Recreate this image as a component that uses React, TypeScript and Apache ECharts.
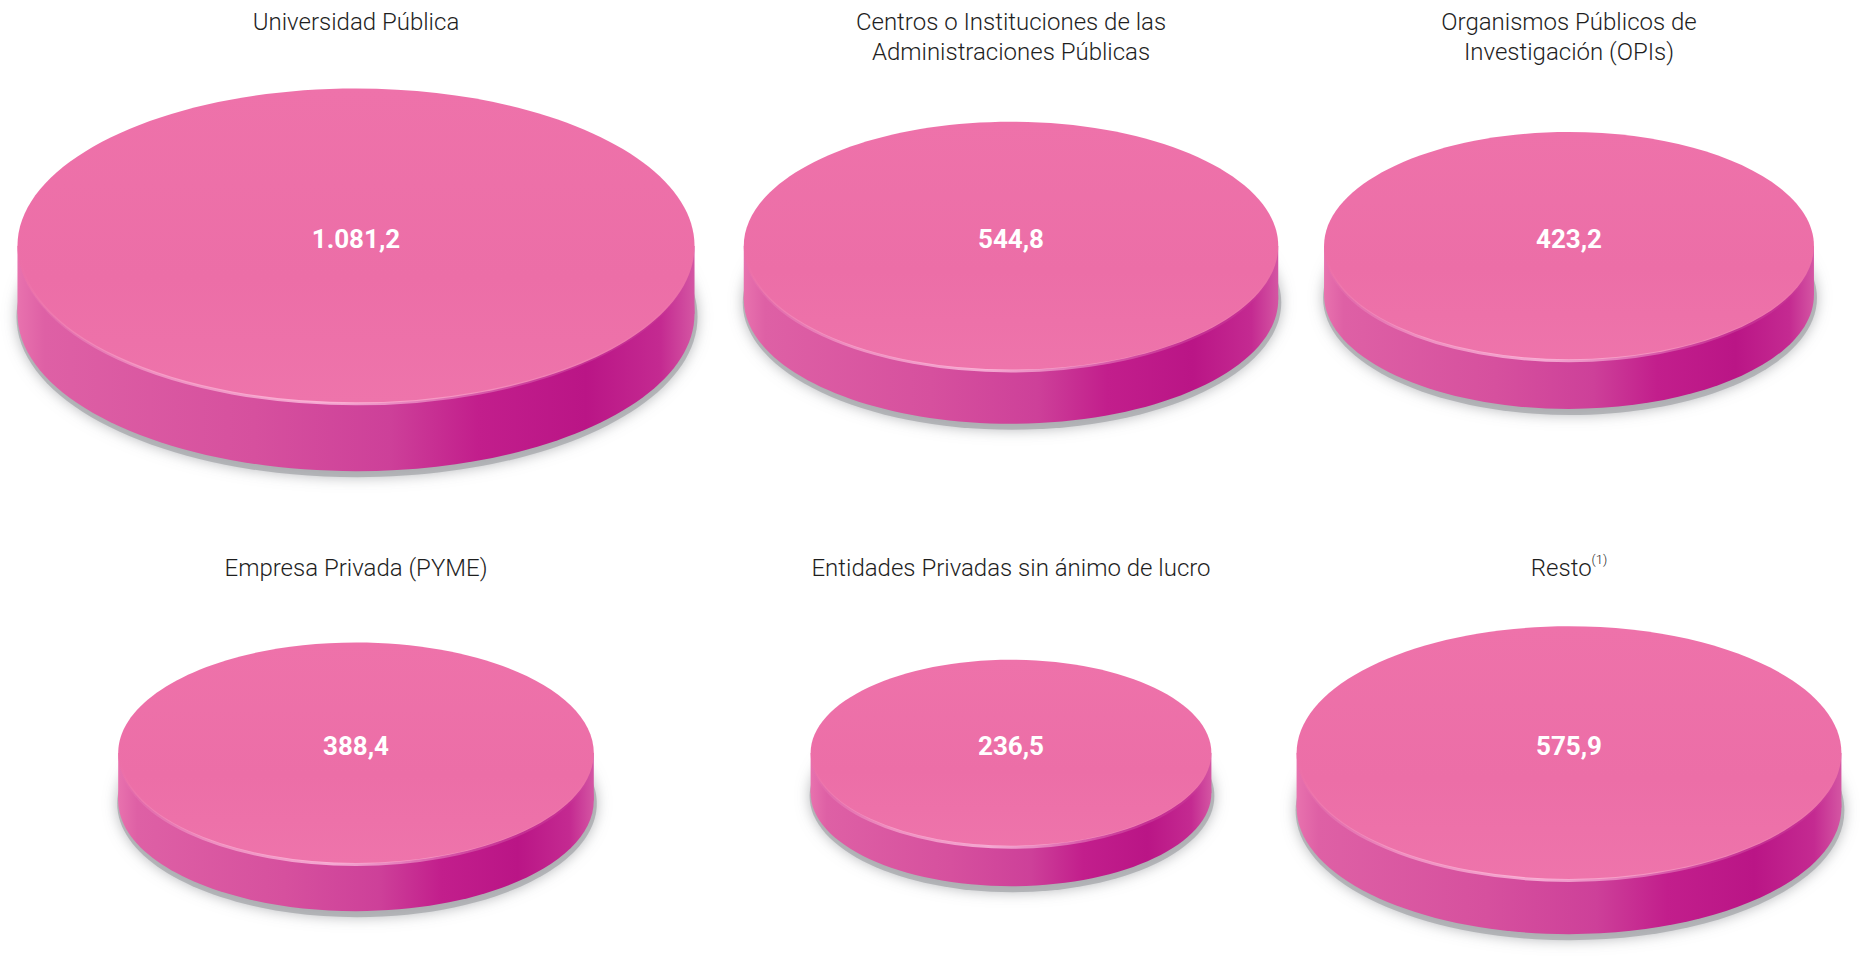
import React, { useEffect, useRef } from 'react';
import * as echarts from 'echarts';

// ---- data ----
const categories = [
  'Universidad Pública',
  'Centros o Instituciones de las\nAdministraciones Públicas',
  'Organismos Públicos de\nInvestigación (OPIs)',
  'Empresa Privada (PYME)',
  'Entidades Privadas sin ánimo de lucro',
  'Resto',
];
const footnotes = ['', '', '', '', '', '(1)'];
const values = [1081.2, 544.8, 423.2, 388.4, 236.5, 575.9];
const columnIndex = [0, 1, 2, 0, 1, 2];
const rowIndex = [0, 0, 0, 1, 1, 1];
const rowNames = ['fila 1', 'fila 2'];

// ---- layout (not data) ----
const W = 1872;
const H = 959;
const colCenters = [356, 1011, 1569];
const rowTop = 246;
const rowSpan = 507;
const titleTops = [7, 553];

const fmt = (v: number) => {
  const [i, d] = v.toFixed(1).split('.');
  return i.replace(/\B(?=(\d{3})+(?!\d))/g, '.') + ',' + d;
};

// power scale: value -> disc horizontal radius
const radiusScale = (v: number) => 256.9 * Math.pow(v / 485.9, 0.345);

const sideGrad = () =>
  new echarts.graphic.LinearGradient(0, 0, 1, 0, [
    { offset: 0, color: '#E872AE' },
    { offset: 0.04, color: '#DE60A5' },
    { offset: 0.35, color: '#D6509E' },
    { offset: 0.55, color: '#CD4099' },
    { offset: 0.68, color: '#C21E8C' },
    { offset: 0.84, color: '#BA1586' },
    { offset: 0.95, color: '#C42A91' },
    { offset: 1, color: '#D456A3' },
  ]);

const topGrad = () =>
  new echarts.graphic.LinearGradient(0, 0, 0, 1, [
    { offset: 0, color: '#EE72AA' },
    { offset: 0.6, color: '#EC6EA7' },
    { offset: 1, color: '#EE74AB' },
  ]);

const lipGrad = () =>
  new echarts.graphic.LinearGradient(0, 0, 1, 0, [
    { offset: 0, color: 'rgba(255,190,220,0)' },
    { offset: 0.2, color: 'rgba(255,190,220,0.55)' },
    { offset: 0.45, color: 'rgba(255,200,228,0.75)' },
    { offset: 0.75, color: 'rgba(255,190,220,0.25)' },
    { offset: 1, color: 'rgba(255,190,220,0)' },
  ]);

const renderDisc = (params: any, api: any) => {
  const pt = api.coord([api.value(0), api.value(1)]);
  const v = api.value(2) as number;
  const cx = pt[0];
  const cy = pt[1];
  const rx = radiusScale(v);
  const ry = rx * 0.465;
  const t = rx * 0.2;
  const lip = `M${cx - rx * 0.995} ${cy + 2} A ${rx * 0.995} ${ry * 0.99} 0 0 0 ${cx + rx * 0.995} ${cy + 2}`;
  return {
    type: 'group',
    children: [
      {
        type: 'ellipse',
        shape: { cx: cx + 1, cy: cy + t + 3, rx: rx + 2, ry: ry + 3 },
        style: {
          fill: 'rgba(165,167,171,0.75)',
          shadowBlur: 14,
          shadowColor: 'rgba(150,152,156,0.9)',
        },
      },
      {
        type: 'ellipse',
        shape: { cx, cy: cy + t, rx, ry },
        style: { fill: sideGrad() },
      },
      {
        type: 'rect',
        shape: { x: cx - rx, y: cy, width: 2 * rx, height: t },
        style: { fill: sideGrad() },
      },
      {
        type: 'ellipse',
        shape: { cx, cy, rx, ry },
        style: { fill: topGrad() },
      },
      {
        type: 'path',
        shape: { pathData: lip },
        style: { fill: 'none', stroke: lipGrad(), lineWidth: 3 },
      },
      {
        type: 'text',
        x: cx,
        y: cy - 7,
        style: {
          text: fmt(v),
          align: 'center',
          verticalAlign: 'middle',
          textAlign: 'center',
          textVerticalAlign: 'middle',
          fill: '#ffffff',
          fontSize: 26,
          fontWeight: 'bold',
          fontFamily: 'Roboto',
        },
      },
    ],
  };
};

export default function App() {
  const ref = useRef<HTMLDivElement>(null);

  useEffect(() => {
    if (!ref.current) return;
    const chart = echarts.init(ref.current, null, { renderer: 'svg' });

    const grids = colCenters.map((c) => ({
      left: c - 50,
      width: 100,
      top: rowTop,
      height: rowSpan,
    }));
    const xAxes = colCenters.map((_, i) => ({
      type: 'category',
      gridIndex: i,
      data: [''],
      show: false,
    }));
    const yAxes = colCenters.map((_, i) => ({
      type: 'category',
      gridIndex: i,
      data: rowNames,
      inverse: true,
      boundaryGap: false,
      show: false,
    }));
    const series = colCenters.map((_, c) => ({
      type: 'custom',
      xAxisIndex: c,
      yAxisIndex: c,
      clip: false,
      renderItem: renderDisc,
      data: values
        .map((v, i) => ({ v, i }))
        .filter((d) => columnIndex[d.i] === c)
        .map((d) => ({ name: categories[d.i], value: [0, rowIndex[d.i], d.v] })),
    }));

    const titles = categories.map((name, i) => ({
      type: 'text',
      x: colCenters[columnIndex[i]],
      y: titleTops[rowIndex[i]],
      style: {
        text: footnotes[i] ? `${name}{sup|${footnotes[i]}}` : name,
        align: 'center',
        verticalAlign: 'top',
        fill: '#1e1e1e',
        fontSize: 24,
        fontWeight: 300,
        fontFamily: 'Roboto',
        lineHeight: 30,
        rich: {
          sup: {
            fontSize: 13,
            fontWeight: 300,
            fontFamily: 'Roboto',
            fill: '#1e1e1e',
            verticalAlign: 'top',
            lineHeight: 24,
          },
        },
      },
    }));

    chart.setOption({
      animation: false,
      backgroundColor: '#ffffff',
      grid: grids,
      xAxis: xAxes,
      yAxis: yAxes,
      series,
      graphic: titles,
    });

    return () => chart.dispose();
  }, []);

  return (
    <div
      ref={ref}
      style={{ position: 'absolute', left: 0, top: 0, width: W, height: H }}
    />
  );
}
